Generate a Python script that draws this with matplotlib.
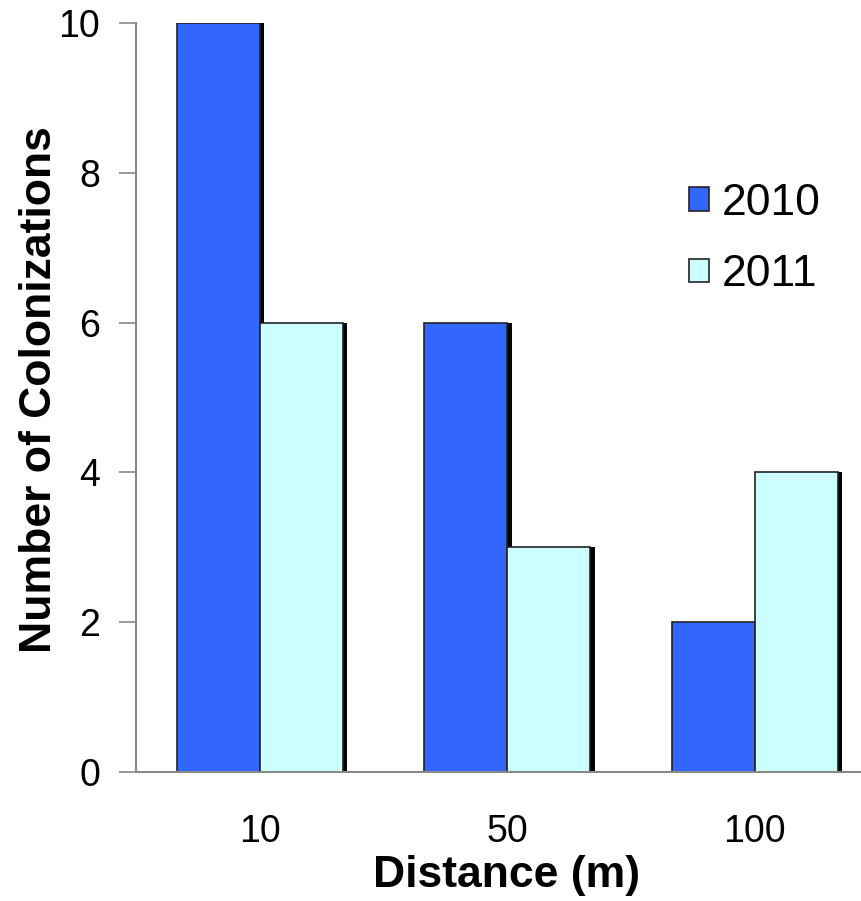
import numpy as np
import matplotlib.pyplot as plt
from matplotlib.patches import Patch

plt.rcParams['font.family'] = ['Liberation Sans', 'DejaVu Sans']

# data
distances = ['10', '50', '100']
col_2010 = [10, 6, 2]
col_2011 = [6, 3, 4]
years = ['2010', '2011']
colors = ['#3366FF', '#CCFFFF']

fig = plt.figure(figsize=(8.62, 9.01), dpi=100)
ax = fig.add_axes([136 / 862, 129 / 901, 726 / 862, 749 / 901])

x = np.arange(len(distances))
w = 0.335
shadow = 0.018

for vals, off, c in [(col_2010, -w / 2, colors[0]), (col_2011, w / 2, colors[1])]:
    # dark drop shadow on the right of each bar
    ax.bar(x + off + shadow, vals, w, color='black', zorder=1)
for vals, off, c in [(col_2010, -w / 2, colors[0]), (col_2011, w / 2, colors[1])]:
    ax.bar(x + off, vals, w, color=c, edgecolor='#222222', linewidth=1.2, zorder=2)

ax.set_xlim(-0.5, -0.5 + 726 / 247.5)
ax.set_ylim(0, 10)
ax.set_yticks([0, 2, 4, 6, 8, 10])
ax.set_xticks(x)
ax.set_xticklabels(distances)
ax.tick_params(axis='y', labelsize=27, length=12, width=1.2, color='#888888', pad=14)
ax.tick_params(axis='x', labelsize=27, length=0, pad=30)

for s in ['top', 'right']:
    ax.spines[s].set_visible(False)
for s in ['left', 'bottom']:
    ax.spines[s].set_color('#888888')
    ax.spines[s].set_linewidth(1.5)

ax.set_xlabel('Distance (m)', fontsize=32, fontweight='bold')
ax.set_ylabel('Number of Colonizations', fontsize=32, fontweight='bold')
ax.xaxis.set_label_coords(0.51, -0.111)
ax.yaxis.set_label_coords(-0.104, 0.51)

handles = [Patch(facecolor=c, edgecolor='#222222', linewidth=1.2) for c in colors]
ax.legend(handles, years, loc='upper left', bbox_to_anchor=(0.737, 0.81),
          frameon=False, fontsize=32, handlelength=0.45, handleheight=0.45,
          handletextpad=0.3, labelspacing=0.68, borderaxespad=0)

fig.savefig('out.png', dpi=100)
